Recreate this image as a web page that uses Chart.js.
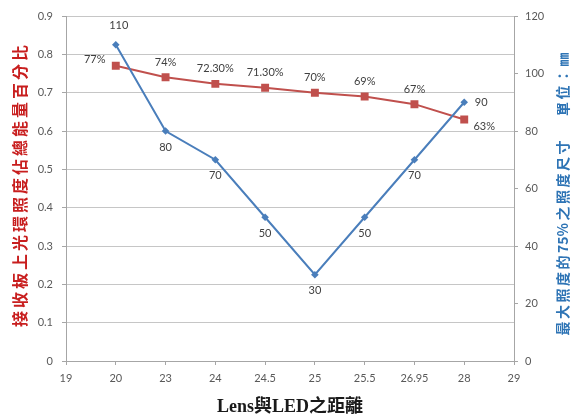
<!DOCTYPE html>
<html>
<head>
<meta charset="utf-8">
<script src="https://cdn.jsdelivr.net/npm/chart.js@4.4.1/dist/chart.umd.min.js"></script>
<style>
  html, body { margin: 0; padding: 0; background: #ffffff; }
  canvas { display: block; }
</style>
</head>
<body>
<canvas id="chart" width="574" height="416"></canvas>
<script>
// Lens-to-LED distance categories (end categories carry no data)
const distances = ['19', '20', '23', '24', '24.5', '25', '25.5', '26.95', '28', '29'];
// Share of total energy in the ring on the receiving plate
const energyShare = [null, 0.77, 0.74, 0.723, 0.713, 0.70, 0.69, 0.67, 0.63, null];
// Spot size at 75% of peak illuminance (mm)
const spotSize = [null, 110, 80, 70, 50, 30, 50, 70, 90, null];

const leftTitle = '接收板上光環照度佔總能量百分比';
const rightTitle = '最大照度的75%之照度尺寸　 單位：㎜';
const bottomTitle = 'Lens與LED之距離';

const TICK_FONT = { family: 'Lato, "Open Sans", sans-serif', size: 11 };
const TICK_COLOR = '#595959';

// where each value label sits relative to its point
const labelOffsets = {
  above: [0, -15],
  top: [3, -19],
  below: [0, 16],
  left: [-21, -6],
  right: [17, 0],
  belowRight: [20, 7]
};

function pctLabel(v) {
  const p = Math.round(v * 10000) / 100;
  return (Number.isInteger(p) ? String(p) : p.toFixed(2)) + '%';
}

const valueLabels = {
  id: 'valueLabels',
  afterDatasetsDraw(chart) {
    const ctx = chart.ctx;
    ctx.save();
    ctx.font = '11px Lato, "Open Sans", sans-serif';
    ctx.fillStyle = '#404040';
    ctx.textAlign = 'center';
    ctx.textBaseline = 'middle';
    chart.data.datasets.forEach((ds, i) => {
      const meta = chart.getDatasetMeta(i);
      meta.data.forEach((pt, j) => {
        const v = ds.data[j];
        if (v == null) return;
        const off = labelOffsets[ds.labelPlaces[j]];
        ctx.fillText(ds.labelFormat(v), pt.x + off[0], pt.y + off[1]);
      });
    });
    ctx.restore();
  }
};

const isAscii = ch => ch.charCodeAt(0) < 128;

// draws a string rotated to read bottom-to-top; wide glyphs get extra spacing
function drawVertical(ctx, text, cx, cy, font, color, spacing) {
  ctx.save();
  ctx.font = font;
  ctx.fillStyle = color;
  ctx.textBaseline = 'middle';
  ctx.textAlign = 'left';
  const chars = Array.from(text);
  const widths = chars.map(ch => ctx.measureText(ch).width);
  const gaps = chars.map((ch, k) =>
    k === chars.length - 1 ? 0 : (isAscii(ch) && isAscii(chars[k + 1]) ? 0 : spacing));
  const total = widths.reduce((a, w) => a + w, 0) + gaps.reduce((a, g) => a + g, 0);
  ctx.translate(cx, cy);
  ctx.rotate(-Math.PI / 2);
  let x = -total / 2;
  chars.forEach((ch, k) => {
    ctx.fillText(ch, x, 0);
    x += widths[k] + gaps[k];
  });
  ctx.restore();
}

const axisTitles = {
  id: 'axisTitles',
  afterDraw(chart) {
    const ctx = chart.ctx;
    const area = chart.chartArea;
    drawVertical(ctx, leftTitle, 20, 186,
      'bold 16px "Noto Sans CJK TC", sans-serif', '#c81e1e', 3);
    drawVertical(ctx, rightTitle, 563, 194,
      'bold 14px "Noto Sans CJK TC", sans-serif', '#2e74b5', 2.5);
    ctx.save();
    ctx.font = 'bold 18px "Liberation Serif", "Noto Sans CJK TC", serif';
    ctx.fillStyle = '#1a1a1a';
    ctx.textAlign = 'center';
    ctx.textBaseline = 'middle';
    ctx.fillText(bottomTitle, (area.left + area.right) / 2, 407);
    ctx.restore();
  }
};

new Chart(document.getElementById('chart'), {
  type: 'line',
  data: {
    labels: distances,
    datasets: [
      {
        label: '75%照度尺寸',
        data: spotSize,
        yAxisID: 'y1',
        borderColor: '#4a7ebb',
        backgroundColor: '#4a7ebb',
        borderWidth: 2,
        pointStyle: 'rectRot',
        pointRadius: 3.8,
        pointBorderWidth: 0,
        tension: 0,
        spanGaps: false,
        labelPlaces: [null, 'top', 'below', 'below', 'below', 'below', 'below', 'below', 'right', null],
        labelFormat: v => String(v)
      },
      {
        label: '能量百分比',
        data: energyShare,
        yAxisID: 'y',
        borderColor: '#c0504d',
        backgroundColor: '#c0504d',
        borderWidth: 2,
        pointStyle: 'rect',
        pointRadius: 5.6,
        pointBorderWidth: 0,
        tension: 0,
        labelPlaces: [null, 'left', 'above', 'above', 'above', 'above', 'above', 'above', 'belowRight', null],
        labelFormat: pctLabel
      }
    ]
  },
  options: {
    responsive: false,
    animation: false,
    devicePixelRatio: 1,
    layout: { padding: { top: 16, left: 0, right: 0, bottom: 0 } },
    plugins: {
      legend: { display: false },
      title: { display: false },
      tooltip: { enabled: false }
    },
    scales: {
      x: {
        type: 'category',
        offset: false,
        border: { color: '#a6a6a6', width: 1 },
        grid: { drawOnChartArea: false, drawTicks: true, tickLength: 4, color: '#a6a6a6' },
        ticks: { font: TICK_FONT, color: TICK_COLOR, padding: 7, maxRotation: 0, autoSkip: false },
        afterFit: s => { s.height = 55; }
      },
      y: {
        position: 'left',
        min: 0,
        max: 0.9,
        border: { color: '#a6a6a6', width: 1 },
        grid: { color: '#c6c6c6', lineWidth: 1, tickLength: 4, tickColor: '#a6a6a6' },
        ticks: {
          stepSize: 0.1,
          font: TICK_FONT,
          color: TICK_COLOR,
          padding: 9,
          callback: v => String(Math.round(v * 10) / 10)
        },
        afterFit: s => { s.width = 66; }
      },
      y1: {
        position: 'right',
        min: 0,
        max: 120,
        border: { color: '#a6a6a6', width: 1 },
        grid: { drawOnChartArea: false, tickLength: 4, color: '#a6a6a6' },
        ticks: { stepSize: 20, font: TICK_FONT, color: TICK_COLOR, padding: 7 },
        afterFit: s => { s.width = 60; }
      }
    }
  },
  plugins: [valueLabels, axisTitles]
});
</script>
</body>
</html>
